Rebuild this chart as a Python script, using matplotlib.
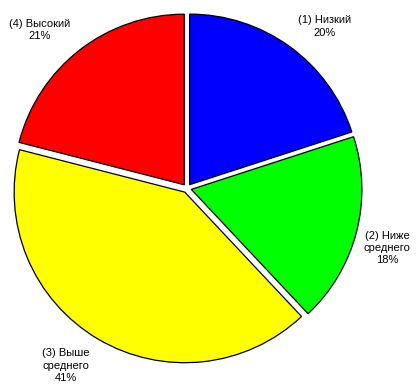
import numpy as np
import matplotlib.pyplot as plt

plt.rcParams['font.family'] = ['Liberation Sans', 'DejaVu Sans']

categories = ['(1) Низкий', '(2) Ниже\nсреднего', '(3) Выше\nсреднего', '(4) Высокий']
shares = [20, 18, 41, 21]
colors = ['#0000ff', '#00ff00', '#ffff00', '#ff0000']

# small angular nudges (deg) and radii for the outside labels
label_shift = [-4.5, -2.2, -3.7, 5.1]
label_radius = [1.246, 1.223, 1.26, 1.267]

# pie centre in pixels and radius in pixels
CX, CY, R = 187, 188.3, 170.6
W, H = 416, 390


def main():
    fig = plt.figure(figsize=(W / 100, H / 100), dpi=100)
    ax = fig.add_axes([0, 0, 1, 1])

    wedges, _ = ax.pie(
        shares,
        colors=colors,
        startangle=90,
        counterclock=False,
        explode=[0.026] * len(shares),
        wedgeprops=dict(edgecolor='black', linewidth=0.9),
    )

    for w, cat, val, da, r in zip(wedges, categories, shares, label_shift, label_radius):
        mid = np.deg2rad((w.theta1 + w.theta2) / 2 + da)
        ax.text(r * np.cos(mid), r * np.sin(mid), f'{cat}\n{val}%',
                ha='center', va='center', fontsize=8, linespacing=1.3)

    ax.set_xlim(-CX / R, (W - CX) / R)
    ax.set_ylim(-(H - CY) / R, CY / R)
    ax.set_aspect('equal')
    ax.axis('off')

    fig.savefig('out.png', dpi=100)


if __name__ == '__main__':
    main()
